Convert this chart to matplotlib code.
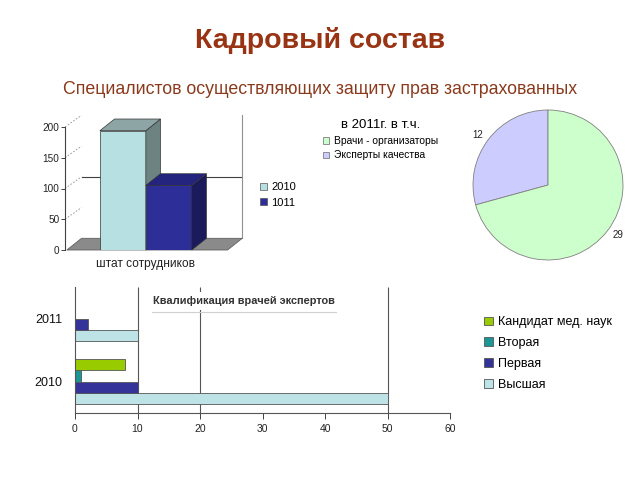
import matplotlib
matplotlib.use("Agg")
import matplotlib.pyplot as plt
from matplotlib.patches import Polygon, Patch
from matplotlib.lines import Line2D

plt.rcParams['font.family'] = ['Liberation Sans', 'DejaVu Sans']

# ---- data ----
title = "Кадровый состав"
subtitle = "Специалистов осуществляющих защиту прав застрахованных"

staff_series = ["2010", "1011"]
staff_values = [194, 105]
staff_category = "штат сотрудников"

pie_labels = ["Эксперты качества", "Врачи - организаторы"]
pie_values = [12, 29]
pie_title = "в 2011г. в т.ч."

qual_years = ["2010", "2011"]
qual_series = ["Высшая", "Первая", "Вторая", "Кандидат мед. наук"]
qual_values = {
    "Высшая": [50, 10],
    "Первая": [10, 2],
    "Вторая": [1, 0],
    "Кандидат мед. наук": [8, 0],
}
qual_title = "Квалификация врачей экспертов"

W, H = 640, 480
fig = plt.figure(figsize=(6.4, 4.8), dpi=100)
fig.patch.set_facecolor('white')


def px_axes(l, t, r, b):
    return fig.add_axes([l / W, 1 - b / H, (r - l) / W, (b - t) / H])


def fx(x):
    return x / W


def fy(y):
    return 1 - y / H


fig.text(fx(320), fy(41), title, ha='center', va='center', fontsize=20.5,
         fontweight='bold', color='#983414')
fig.text(fx(320), fy(89), subtitle, ha='center', va='center', fontsize=12.8,
         color='#8a3a1c')

# ---- top 3D-like bar chart ----
ax1 = px_axes(65, 127, 245, 250)
ax1.set_xlim(-0.88, 1.08)
ax1.set_ylim(0, 200)
for s in ['top', 'right', 'bottom']:
    ax1.spines[s].set_visible(False)
ax1.spines['left'].set_color('#404040')
ax1.spines['left'].set_linewidth(0.8)
ax1.set_yticks([0, 50, 100, 150, 200])
ax1.tick_params(axis='y', labelsize=7.2, length=3, width=0.6, pad=1, colors='#222222')
ax1.set_xticks([])
ax1.patch.set_alpha(0)

dx, dy = 0.16, 19
fl, fr = -0.86, 0.89
ax1.plot([fl + dx, fr + dx], [100 + dy, 100 + dy], color='#404040', lw=0.8, zorder=1, clip_on=False)
ax1.plot([fr + dx, fr + dx], [dy, 200 + dy], color='#909090', lw=0.8, zorder=1, clip_on=False)
for v in [50, 100, 150, 200]:
    ax1.plot([-0.88, fl + dx], [v, v + dy], color='#909090', lw=0.6, ls=(0, (2, 2)), zorder=1, clip_on=False)
ax1.add_patch(Polygon([(fl, 0), (fr, 0), (fr + dx, dy), (fl + dx, dy)], closed=True,
                      facecolor='#8a8a8a', edgecolor='#606060', lw=0.6, zorder=2, clip_on=False))

face_cols = ['#b7e0e3', '#2e2e98']
top_cols = ['#8ea5a5', '#24247e']
side_cols = ['#6c8382', '#1b1b5c']
xs = [-0.25, 0.25]
bw = 0.5
bars = ax1.bar(xs, staff_values, width=bw, color=face_cols, edgecolor='#333333', linewidth=0.5, zorder=3)
for i, (b, v) in enumerate(zip(bars, staff_values)):
    b.set_zorder(3 + i)
    xl = b.get_x()
    xr = xl + b.get_width()
    ax1.add_patch(Polygon([(xr, 0), (xr + dx, dy), (xr + dx, v + dy), (xr, v)], closed=True,
                          facecolor=side_cols[i], edgecolor='#333333', lw=0.5, zorder=3 + i, clip_on=False))
    ax1.add_patch(Polygon([(xl, v), (xl + dx, v + dy), (xr + dx, v + dy), (xr, v)], closed=True,
                          facecolor=top_cols[i], edgecolor='#333333', lw=0.5, zorder=3 + i, clip_on=False))
fig.text(fx(146), fy(264), staff_category, ha='center', va='center', fontsize=8.6, color='#222222')
fig.legend([Patch(facecolor=c, edgecolor='#555555', lw=0.5) for c in face_cols], staff_series,
           loc='center left', bbox_to_anchor=(fx(250), fy(195)), frameon=False, fontsize=8,
           handlelength=0.6, handleheight=0.6, labelspacing=0.45, handletextpad=0.4)

# ---- pie ----
ax2 = px_axes(473, 110, 623, 260)
wedges, texts = ax2.pie(pie_values, labels=[str(v) for v in pie_values], colors=['#ccccff', '#ccffcc'],
                        startangle=90, counterclock=True, labeldistance=1.09,
                        wedgeprops=dict(edgecolor='#808080', linewidth=0.6),
                        textprops=dict(fontsize=7, color='#222222'))
ax2.set_aspect('equal')
ax2.set_xlim(-1, 1)
ax2.set_ylim(-1, 1)
fig.legend([wedges[1], wedges[0]], [pie_labels[1], pie_labels[0]], title=pie_title,
           loc='upper left', bbox_to_anchor=(fx(314), fy(110)), frameon=False, fontsize=7.4,
           title_fontsize=9.5, handlelength=0.6, handleheight=0.6, labelspacing=0.45,
           handletextpad=0.4)

# ---- bottom horizontal bars ----
ax3 = px_axes(75, 287, 450, 413)
ax3.set_xlim(0, 60)
ax3.set_ylim(-0.5, 1.5)
for s in ['top', 'right']:
    ax3.spines[s].set_visible(False)
for s in ['left', 'bottom']:
    ax3.spines[s].set_color('#555555')
    ax3.spines[s].set_linewidth(0.8)
ax3.set_xticks(range(0, 61, 10))
ax3.tick_params(axis='x', labelsize=7.5, length=4, width=0.6, colors='#222222', pad=4)
ax3.set_yticks([0, 1], qual_years)
ax3.tick_params(axis='y', labelsize=9, length=0, pad=9, colors='#111111')
ax3.vlines([10, 20, 50], -0.5, 1.5, color='#555555', lw=0.8, zorder=0)

qual_colors = {"Высшая": '#bee3e6', "Первая": '#333399', "Вторая": '#1a9696', "Кандидат мед. наук": '#99cc00'}
h = 0.18
offs = [-1.5 * h, -0.5 * h, 0.5 * h, 1.5 * h]
for off, name in zip(offs, qual_series):
    ax3.barh([y + off for y in range(len(qual_years))], qual_values[name], height=h,
             color=qual_colors[name], edgecolor='#555555', linewidth=0.6, zorder=2, label=name)

fig.text(fx(244), fy(301), qual_title, ha='center', va='center', fontsize=7.9, fontweight='bold',
         color='#333333', bbox=dict(facecolor='white', edgecolor='none', pad=3), zorder=5)
fig.add_artist(Line2D([fx(152), fx(336)], [fy(312), fy(312)], color='#d0d0d0', lw=0.8))

h3, l3 = ax3.get_legend_handles_labels()
fig.legend(h3[::-1], l3[::-1], loc='upper left', bbox_to_anchor=(fx(473), fy(305)), frameon=False,
           fontsize=9, handlelength=0.7, handleheight=0.7, labelspacing=0.7, handletextpad=0.4)

fig.savefig('out.png', dpi=100)
